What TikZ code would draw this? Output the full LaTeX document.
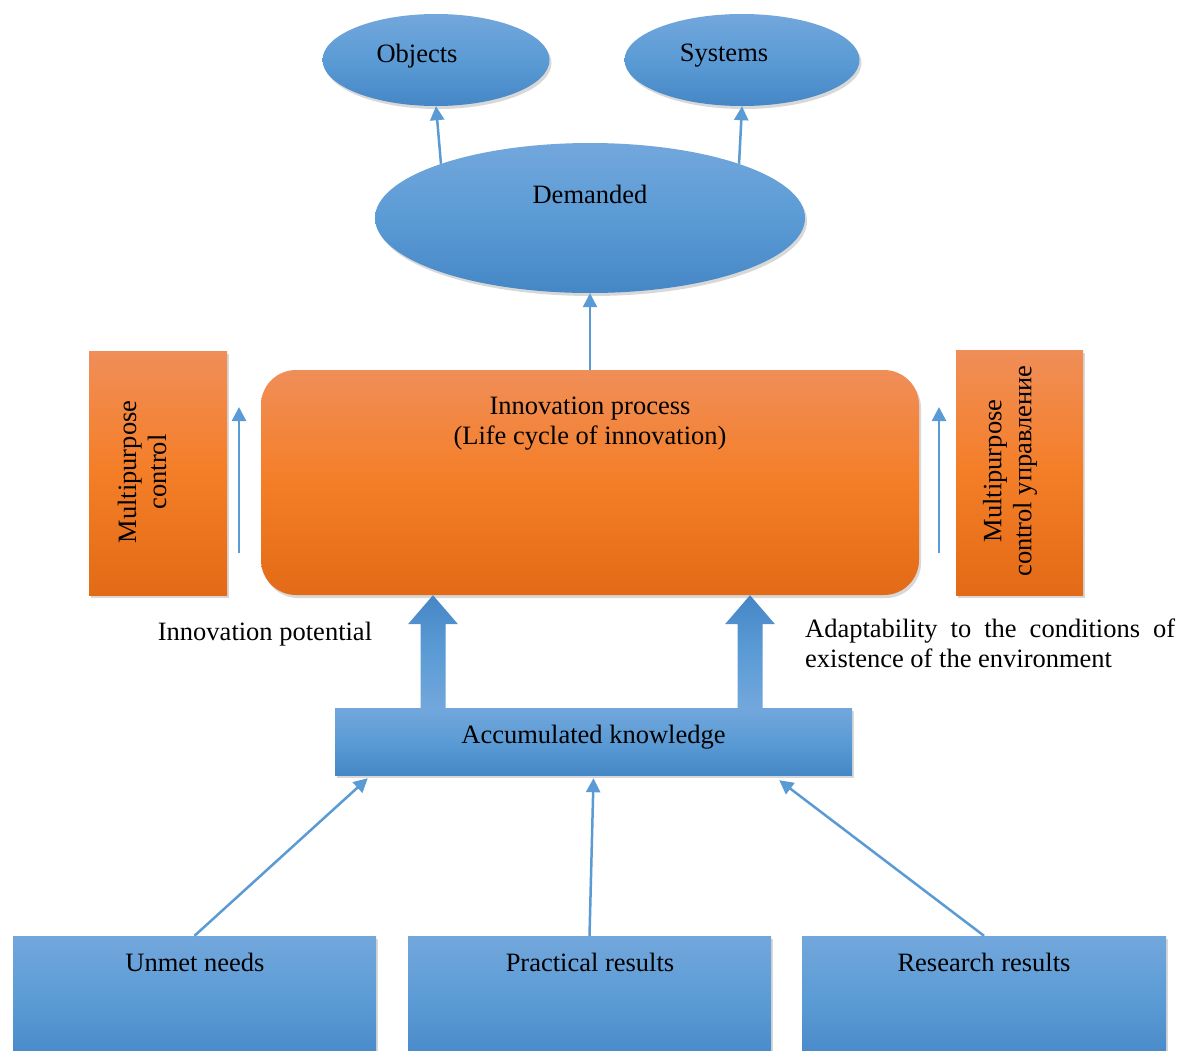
\documentclass[tikz,border=0pt]{standalone}
\usepackage{fontspec}
\setmainfont{Liberation Serif}
\usetikzlibrary{shapes.geometric,shadows,arrows.meta,calc}
\definecolor{bT}{HTML}{72A7DC}
\definecolor{bM}{HTML}{5B9BD5}
\definecolor{bB}{HTML}{4586C6}
\definecolor{oT}{HTML}{F08E58}
\definecolor{oM}{HTML}{F47E27}
\definecolor{oB}{HTML}{E36A16}
\definecolor{arrc}{HTML}{5B9BD5}
\begin{document}
\begin{tikzpicture}[x=1pt,y=-1pt,
  every node/.style={font=\fontsize{26.5pt}{30pt}\selectfont, inner sep=0pt, text=black},
  shd/.style={drop shadow={shadow xshift=2pt,shadow yshift=-3pt,opacity=0.3}},
  bluebox/.style={shd, rectangle, top color=bT, bottom color=bB, middle color=bM},
  blueell/.style={shd, ellipse, top color=bT, bottom color=bB, middle color=bM},
  orangebox/.style={shd, rectangle, top color=oT, bottom color=oB, middle color=oM},
  thinarr/.style={draw=arrc, line width=2.5pt, -{Triangle[length=14pt,width=14pt]}},
  fatshade/.style={top color=bB, bottom color=bT, middle color=bM}]
\clip (0,0) rectangle (1180,1050);
\fill[white] (0,0) rectangle (1180,1050);

% top ellipses
\node[blueell, minimum width=227, minimum height=92] (obj) at (436,60) {};
\node (objT) at (417,56) {Objects};
\node[blueell, minimum width=235, minimum height=92] (sys) at (742,60) {};
\node (sysT) at (724,56) {Systems};
\node[blueell, minimum width=430, minimum height=150] (dem) at (590,218) {};
\node (demT) at (590,194) {Demanded};

% innovation process
\node[orangebox, rounded corners=35, minimum width=658, minimum height=225] (ip) at (590,482.5) {};
\node[align=center] (ipT) at (590,424) {Innovation process\\(Life cycle of innovation)};

% side boxes
\node[orangebox, minimum width=138, minimum height=244] (lc) at (158,473) {};
\node[rotate=90, align=center] (lcT) at (142,472) {Multipurpose\\control};
\node[orangebox, minimum width=127, minimum height=245] (rc) at (1019.5,472.5) {};
\node[rotate=90, align=center] (rcT) at (1010,471) {Multipurpose\\control управление};

% accumulated knowledge
\node[bluebox, minimum width=517, minimum height=67] (ak) at (593.5,741.5) {};
\node (akT) at (593.5,737.5) {Accumulated knowledge};

% bottom boxes
\node[bluebox, minimum width=363, minimum height=130] (un) at (194.5,1001) {};
\node (unT) at (195,962) {Unmet needs};
\node[bluebox, minimum width=363, minimum height=130] (pr) at (589.5,1001) {};
\node (prT) at (590,962) {Practical results};
\node[bluebox, minimum width=364, minimum height=130] (rr) at (984,1001) {};
\node (rrT) at (984,962) {Research results};

% labels
\node (pot) at (265,634) {Innovation potential};
\node[text width=370pt, align=justify, anchor=north west] (adapt) at (805,619)
  {Adaptability to the conditions of existence of the environment};

% connectors
\draw[thinarr] (dem.160) -- (obj.south);
\draw[thinarr] (dem.20) -- (sys.south);
\draw[thinarr] (ip.north) -- (dem.south);
\coordinate (l1) at (239,553); \coordinate (l2) at (239,407);
\draw[thinarr] (l1) -- (l2);
\coordinate (r1) at (939,553); \coordinate (r2) at (939,407);
\draw[thinarr] (r1) -- (r2);
\coordinate (f1) at (433,0); \coordinate (f2) at (750,0);
\foreach \f in {f1,f2}{
  \shade[fatshade]
    ($(ak.north -| \f)+(-12.5,0)$) -- ($(ip.south -| \f)+(-12.5,29)$) --
    ($(ip.south -| \f)+(-25,29)$) -- (ip.south -| \f) --
    ($(ip.south -| \f)+(25,29)$) -- ($(ip.south -| \f)+(12.5,29)$) --
    ($(ak.north -| \f)+(12.5,0)$) -- cycle;
}
\draw[thinarr] (un.north) -- ($(ak.south west)+(33,3)$);
\draw[thinarr] (pr.north) -- ($(ak.south)+(0,3)$);
\draw[thinarr] (rr.north) -- ($(ak.south east)+(-73,5)$);
\end{tikzpicture}
\end{document}
